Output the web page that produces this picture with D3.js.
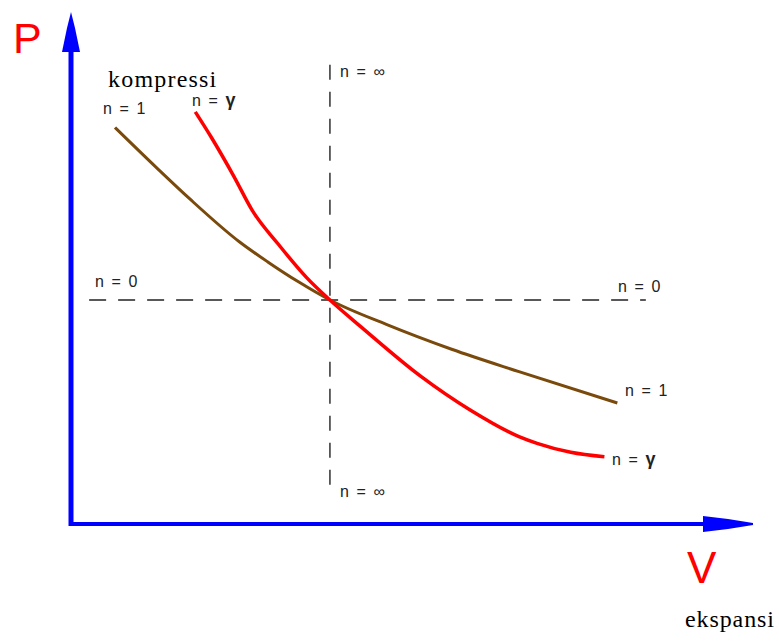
<!DOCTYPE html>
<html>
<head>
<meta charset="utf-8">
<script src="https://cdn.jsdelivr.net/npm/d3@7"></script>
<style>
  body { margin: 0; background: #fff; }
  svg { display: block; }
</style>
</head>
<body>
<div id="chart"></div>
<script>
// n = 1 (isothermal) curve, V / P in units of the crossing point
var isoV = [0.17, 0.34, 0.46, 0.65, 0.76, 0.88, 1.00, 1.22, 1.47, 1.73, 2.11];
var isoP = [1.77, 1.58, 1.45, 1.26, 1.17, 1.08, 1.00, 0.89, 0.78, 0.68, 0.54];
// n = gamma (adiabatic) curve
var adiV = [0.48, 0.54, 0.63, 0.70, 0.80, 0.91, 1.00, 1.12, 1.35, 1.54, 1.73, 1.80, 1.93, 2.06];
var adiP = [1.84, 1.73, 1.55, 1.40, 1.25, 1.10, 1.00, 0.88, 0.66, 0.51, 0.39, 0.36, 0.32, 0.30];
// dashed reference lines n = 0 and n = inf
var isobarV = [0.07, 2.22];
var isochoreP = [0.13, 2.05];

var svgWidth = 779;
var svgHeight = 641;

var svg = d3.select("#chart")
    .append("svg")
    .attr("width", svgWidth)
    .attr("height", svgHeight);

var x = d3.scaleLinear().domain([0, 2.63]).range([71, 752]);
var y = d3.scaleLinear().domain([0, 2.3]).range([524, 8.8]);

var line = d3.line()
    .x(d => x(d[0]))
    .y(d => y(d[1]))
    .curve(d3.curveMonotoneX);

// dashed lines
svg.append("line")
    .attr("x1", x(isobarV[0])).attr("x2", x(isobarV[1]))
    .attr("y1", y(1)).attr("y2", y(1))
    .attr("stroke", "#222").attr("stroke-width", 1.4)
    .attr("stroke-dasharray", "17,12");
svg.append("line")
    .attr("x1", x(1)).attr("x2", x(1))
    .attr("y1", y(isochoreP[1])).attr("y2", y(isochoreP[0]))
    .attr("stroke", "#222").attr("stroke-width", 1.4)
    .attr("stroke-dasharray", "15,12");

// curves
svg.append("path")
    .datum(isoV.map((v, i) => [v, isoP[i]]))
    .attr("d", line)
    .attr("fill", "none")
    .attr("stroke", "#7a4a0c")
    .attr("stroke-width", 3);
svg.append("path")
    .datum(adiV.map((v, i) => [v, adiP[i]]))
    .attr("d", line)
    .attr("fill", "none")
    .attr("stroke", "#ff0000")
    .attr("stroke-width", 3.5);

// axes
var x0 = x(0), y0 = y(0);
svg.append("line")
    .attr("x1", x0).attr("x2", x0)
    .attr("y1", y0 + 2).attr("y2", 50)
    .attr("stroke", "#0000ff").attr("stroke-width", 5);
svg.append("line")
    .attr("x1", x0 - 2).attr("x2", 705)
    .attr("y1", y0).attr("y2", y0)
    .attr("stroke", "#0000ff").attr("stroke-width", 4);
svg.append("polygon")
    .attr("points", [[x0, 12], [x0 + 4, 28], [x0 + 9, 52], [x0 - 9, 52], [x0 - 4, 28]].join(" "))
    .attr("fill", "#0000ff");
svg.append("polygon")
    .attr("points", [[703, y0 - 8], [728, y0 - 5], [753, y0 - 1], [753, y0 + 1], [728, y0 + 5], [703, y0 + 8]].join(" "))
    .attr("fill", "#0000ff");

// labels
var sans = "Liberation Sans, Arial, sans-serif";
var serif = "Liberation Serif, Times New Roman, serif";
var labels = [
    {t: "n = ∞", x: 340, y: 77},
    {t: "n = ∞", x: 340, y: 497},
    {t: "n = 0", x: 95, y: 287},
    {t: "n = 0", x: 618, y: 292},
    {t: "n = 1", x: 625, y: 396},
    {t: "n = 1", x: 103, y: 114}
];
labels.forEach(function(l) {
    svg.append("text")
        .attr("x", l.x).attr("y", l.y)
        .style("font-family", sans)
        .style("font-size", "16px")
        .style("letter-spacing", "1.6px")
        .attr("fill", "#222")
        .text(l.t);
});
var gammaLabels = [{x: 192, y: 106}, {x: 612, y: 465}];
gammaLabels.forEach(function(l) {
    var t = svg.append("text")
        .attr("x", l.x).attr("y", l.y)
        .style("font-family", sans)
        .style("font-size", "16px")
        .style("letter-spacing", "1.6px")
        .attr("fill", "#222");
    t.append("tspan").text("n = ");
    t.append("tspan").style("font-weight", "bold").style("font-size", "18px").text("γ");
});

svg.append("text")
    .attr("x", 108).attr("y", 87)
    .style("font-family", serif)
    .style("font-size", "24px")
    .style("letter-spacing", "1.2px")
    .attr("fill", "#000")
    .text("kompressi");
svg.append("text")
    .attr("x", 685).attr("y", 627)
    .style("font-family", serif)
    .style("font-size", "24px")
    .style("letter-spacing", "0.9px")
    .attr("fill", "#000")
    .text("ekspansi");

svg.append("text")
    .attr("x", 13).attr("y", 53)
    .style("font-family", sans)
    .style("font-size", "43px")
    .attr("fill", "#ff0000")
    .text("P");
svg.append("text")
    .attr("x", 687).attr("y", 583)
    .style("font-family", sans)
    .style("font-size", "44px")
    .attr("fill", "#ff0000")
    .text("V");
</script>
</body>
</html>
